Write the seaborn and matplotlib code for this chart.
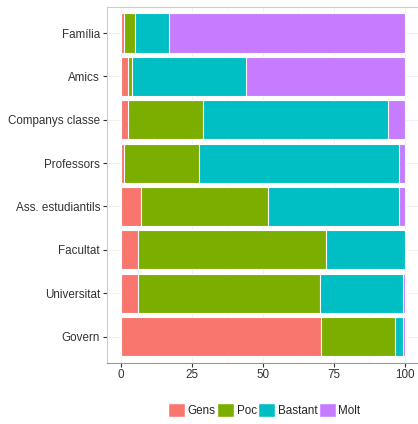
import numpy as np
import pandas as pd
import seaborn as sns
import matplotlib.pyplot as plt
from matplotlib.patches import Patch

categories = ['Família', 'Amics', 'Companys classe', 'Professors',
              'Ass. estudiantils', 'Facultat', 'Universitat', 'Govern']
levels = ['Gens', 'Poc', 'Bastant', 'Molt']
gens = [1.0, 2.3, 2.3, 1.1, 7.0, 6.1, 6.1, 70.4]
poc = [4.0, 1.5, 26.7, 26.5, 44.8, 66.3, 63.9, 26.2]
bastant = [11.7, 40.4, 65.2, 70.3, 46.1, 27.6, 29.3, 2.7]
molt = [83.3, 55.8, 5.8, 2.1, 2.1, 0.0, 0.7, 0.7]
colors = ['#F8766D', '#7CAE00', '#00BFC4', '#C77CFF']

df = pd.DataFrame({'cat': categories, 'Gens': gens, 'Poc': poc,
                   'Bastant': bastant, 'Molt': molt})

sns.set_style('white')
plt.rcParams['font.family'] = ['Liberation Sans', 'DejaVu Sans']

fig = plt.figure(figsize=(4.18, 4.24), dpi=100)
ax = fig.add_axes([0.256, 0.145, 0.746, 0.8385])

# stacked bars: draw cumulative totals from the widest down
cum = df[levels].cumsum(axis=1)
for lev, col in reversed(list(zip(levels, colors))):
    sns.barplot(x=cum[lev], y=df['cat'], color=col, saturation=1, width=0.9,
                edgecolor='white', linewidth=0.8, orient='h', ax=ax, zorder=2)

ax.set_xlim(-5, 105)
ax.set_ylim(7.6, -0.6)
ax.set_xticks([0, 25, 50, 75, 100])
ax.set_xticks([12.5, 37.5, 62.5, 87.5], minor=True)
ax.grid(True, which='major', color='#EFEFEF', lw=0.6, zorder=0)
ax.grid(True, which='minor', axis='x', color='#F6F6F6', lw=0.5, zorder=0)
ax.set_axisbelow(True)
ax.set_xlabel('')
ax.set_ylabel('')
ax.tick_params(axis='both', length=3, width=0.8, color='#333333',
               labelsize=8.4, labelcolor='#333333', pad=2, bottom=True, left=True)
ax.tick_params(which='minor', length=0)
for s in ['top', 'left']:
    ax.spines[s].set_color('#CCCCCC')
    ax.spines[s].set_linewidth(0.8)
ax.spines['bottom'].set_color('#999999')
ax.spines['bottom'].set_linewidth(0.8)
ax.spines['right'].set_visible(False)

handles = [Patch(facecolor=c, edgecolor='white', label=l) for l, c in zip(levels, colors)]
fig.legend(handles=handles, loc='center', bbox_to_anchor=(0.632, 0.033), ncol=4,
           frameon=False, fontsize=8.4, handlelength=1.5, handleheight=1.5,
           handletextpad=0.2, columnspacing=0.1, borderpad=0)

fig.savefig('out.png', dpi=100)
